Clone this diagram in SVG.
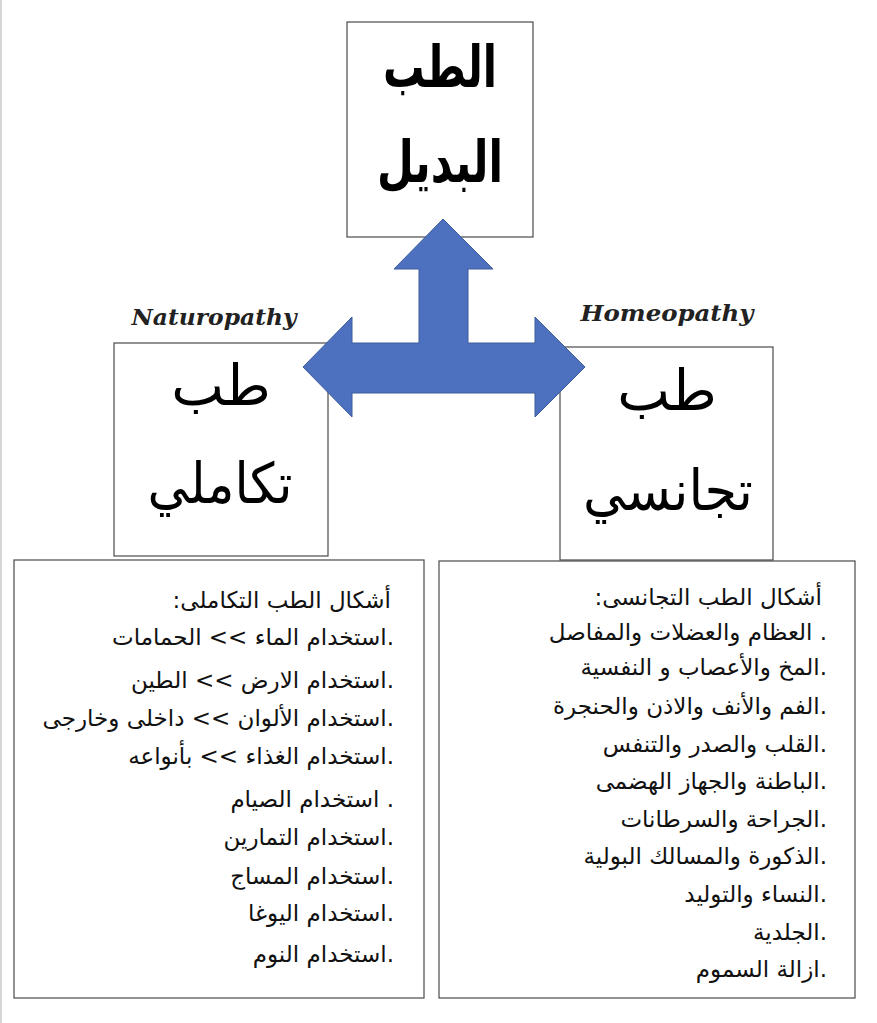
<svg xmlns="http://www.w3.org/2000/svg" width="877" height="1023" viewBox="0 0 877 1023">
<style>
.box{fill:#fff;stroke:#4a4a4a;stroke-width:1.2}
.title{font-family:"DejaVu Sans",sans-serif;fill:#000;text-anchor:middle}
.en{font-family:"DejaVu Serif","Liberation Serif",serif;font-weight:bold;font-style:italic;fill:#222;text-anchor:middle}
.li{font-family:"DejaVu Sans",sans-serif;font-size:23px;fill:#111;text-anchor:end}
.arrow{fill:#4e71bf;stroke:#3d5c9e;stroke-width:1}
</style>
<rect x="0" y="0" width="877" height="1023" fill="#fff"/>
<rect x="0" y="0" width="2" height="1023" fill="#d6d6d6"/>

<g id="node-top">
<rect class="box" x="347" y="22" width="186" height="215"/>
<text class="title" x="440" y="87" font-size="58" font-weight="bold" textLength="114" lengthAdjust="spacingAndGlyphs">الطب</text>
<text class="title" x="440" y="182" font-size="58" font-weight="bold" textLength="126" lengthAdjust="spacingAndGlyphs">البديل</text>
</g>

<g id="label-naturopathy">
<text class="en" x="214" y="325" font-size="22" textLength="165" lengthAdjust="spacingAndGlyphs">Naturopathy</text>
</g>
<g id="label-homeopathy">
<text class="en" x="667" y="321" font-size="22" textLength="173" lengthAdjust="spacingAndGlyphs">Homeopathy</text>
</g>

<g id="node-left">
<rect class="box" x="114" y="343" width="214" height="213"/>
<text class="title" x="221" y="405" font-size="56">طب</text>
<text class="title" x="220" y="503" font-size="56" textLength="145" lengthAdjust="spacingAndGlyphs">تكاملي</text>
</g>

<g id="node-right">
<rect class="box" x="560" y="347" width="213" height="213"/>
<text class="title" x="667" y="410" font-size="56">طب</text>
<text class="title" x="668" y="510" font-size="56" textLength="170" lengthAdjust="spacingAndGlyphs">تجانسي</text>
</g>

<g id="connectors">
<polygon class="arrow" points="443,219 493,269 468,269 468,343 535,343 535,317 585,367 535,417 535,393 352,393 352,417 303,367 352,317 352,343 419,343 419,269 394,269"/>
</g>

<g id="list-left">
<rect class="box" x="14" y="560" width="410" height="438"/>
<text class="li" x="391" y="608">:أشكال الطب التكاملى</text>
<text class="li" x="394" y="645">استخدام الماء &gt;&gt; الحمامات.</text>
<text class="li" x="394" y="688">استخدام الارض &gt;&gt; الطين.</text>
<text class="li" x="394" y="726">استخدام الألوان &gt;&gt; داخلى وخارجى.</text>
<text class="li" x="394" y="764">استخدام الغذاء &gt;&gt; بأنواعه.</text>
<text class="li" x="394" y="807">استخدام الصيام .</text>
<text class="li" x="394" y="845">استخدام التمارين.</text>
<text class="li" x="394" y="884">استخدام المساج.</text>
<text class="li" x="394" y="921">استخدام اليوغا.</text>
<text class="li" x="394" y="962">استخدام النوم.</text>
</g>

<g id="list-right">
<rect class="box" x="439" y="561" width="416" height="437"/>
<text class="li" x="822" y="605">:أشكال الطب التجانسى</text>
<text class="li" x="827" y="640">العظام والعضلات والمفاصل .</text>
<text class="li" x="827" y="675">المخ والأعصاب و النفسية.</text>
<text class="li" x="827" y="714">الفم والأنف والاذن والحنجرة.</text>
<text class="li" x="827" y="752">القلب والصدر والتنفس.</text>
<text class="li" x="827" y="789">الباطنة والجهاز الهضمى.</text>
<text class="li" x="827" y="827">الجراحة والسرطانات.</text>
<text class="li" x="827" y="864">الذكورة والمسالك البولية.</text>
<text class="li" x="827" y="902">النساء والتوليد.</text>
<text class="li" x="827" y="940">الجلدية.</text>
<text class="li" x="827" y="977">ازالة السموم.</text>
</g>
</svg>
